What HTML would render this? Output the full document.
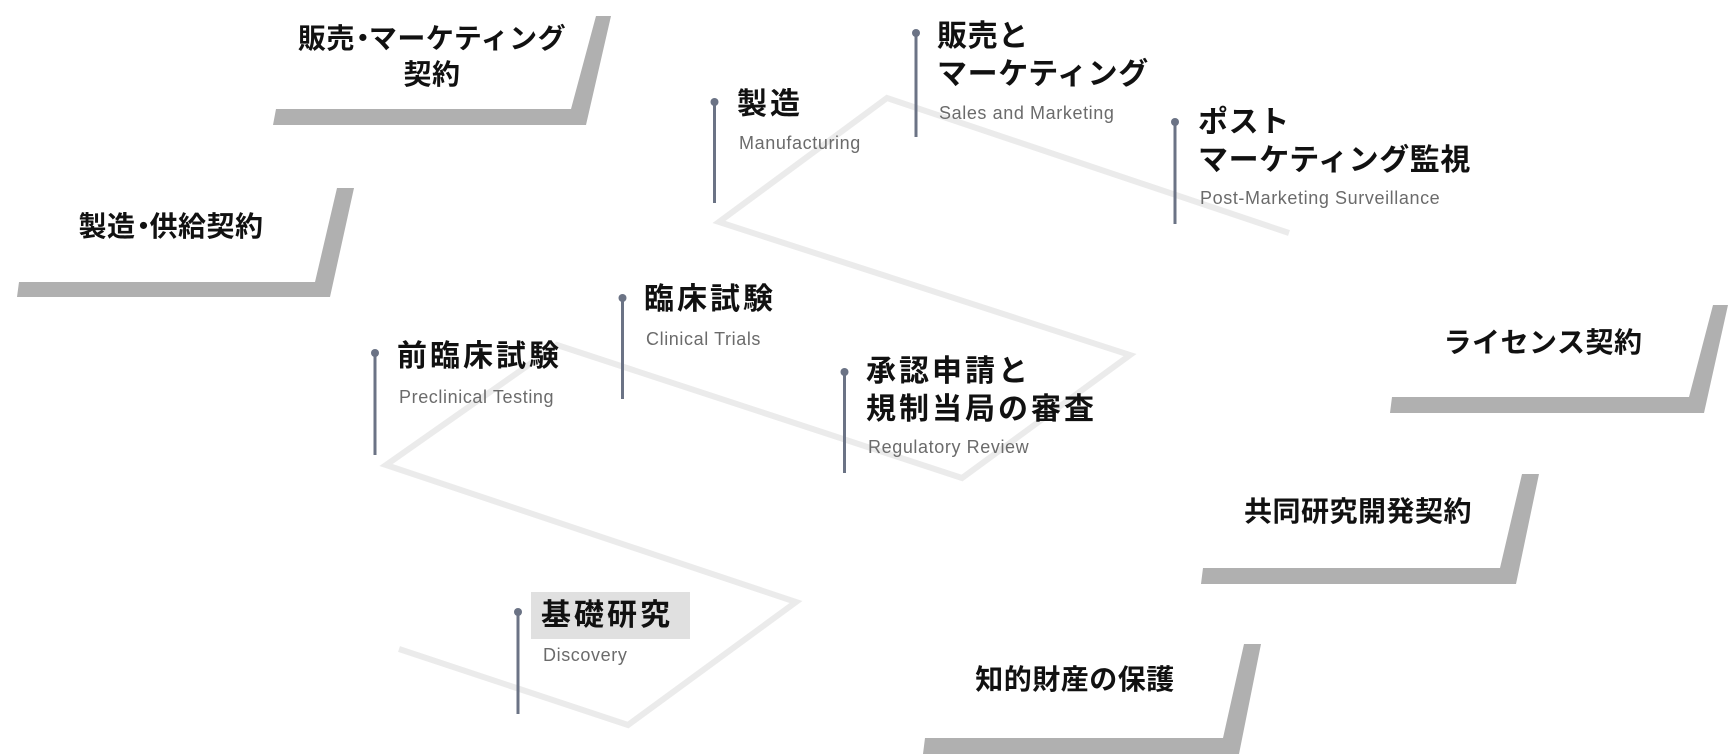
<!DOCTYPE html>
<html><head><meta charset="utf-8"><style>
html,body{margin:0;padding:0;background:#fff;}
body{width:1728px;height:754px;position:relative;overflow:hidden;font-family:"Liberation Sans","Noto Sans CJK JP",sans-serif;}
svg{position:absolute;left:0;top:0;}
.t{position:absolute;font-weight:bold;font-size:30px;letter-spacing:0.6px;line-height:38px;color:#111;white-space:nowrap;font-family:"Liberation Sans","Noto Sans CJK JP",sans-serif;}
.k{letter-spacing:3px;}
.s{position:absolute;font-size:18px;letter-spacing:0.6px;line-height:20px;color:#6b6b6b;white-space:nowrap;}
.c{position:absolute;font-weight:bold;font-size:28px;letter-spacing:0.5px;line-height:36px;color:#111;white-space:nowrap;text-align:center;transform:translateX(-50%);}
.d{letter-spacing:-8px;margin-left:-6px;}
</style></head><body>
<svg width="1728" height="754" viewBox="0 0 1728 754">
<polyline points="1289,233 887,98 719,222 1130,355 962,478 557,345 386,465 796,602 628,725 399,649" fill="none" stroke="#ebebeb" stroke-width="6"/>
<g fill="#b0b0b0">
<polygon points="596,16 611,16 586,125 273,125 276,109 571,109"/>
<polygon points="337,188 354,188 330,297 17,297 19,282 315,282"/>
<polygon points="1713,305 1728,305 1704,413 1390,413 1392,397 1689,397"/>
<polygon points="1522,474 1539,474 1516,584 1201,584 1203,568 1500,568"/>
<polygon points="1244,644 1261,644 1239,754 923,754 925,738 1223,738"/>
</g>
<rect x="531" y="592" width="159" height="47" fill="#e0e0e0"/>
<g stroke="#6b7385" stroke-width="3">
<line x1="714.5" y1="102" x2="714.5" y2="203"/>
<line x1="916" y1="33" x2="916" y2="137"/>
<line x1="1175" y1="122" x2="1175" y2="224"/>
<line x1="622.5" y1="298" x2="622.5" y2="399"/>
<line x1="375" y1="353" x2="375" y2="455"/>
<line x1="844.5" y1="372" x2="844.5" y2="473"/>
<line x1="518" y1="612" x2="518" y2="714"/>
</g>
<g fill="#6b7385">
<circle cx="714.5" cy="102" r="4"/><circle cx="916" cy="33" r="4"/><circle cx="1175" cy="122" r="4"/>
<circle cx="622.5" cy="298" r="4"/><circle cx="375" cy="353" r="4"/><circle cx="844.5" cy="372" r="4"/><circle cx="518" cy="612" r="4"/>
</g>
</svg>

<div class="c" style="left:432px;top:21px;">販売<span class="d">・</span>マーケティング<br>契約</div>
<div class="c" style="left:171px;top:209px;">製造<span class="d">・</span>供給契約</div>
<div class="c" style="left:1543px;top:325px;">ライセンス契約</div>
<div class="c" style="left:1358px;top:494px;">共同研究開発契約</div>
<div class="c" style="left:1075px;top:662px;">知的財産の保護</div>

<div class="t k" style="left:737px;top:86px;">製造</div>
<div class="s" style="left:739px;top:133px;">Manufacturing</div>

<div class="t" style="left:937px;top:18px;">販売と<br>マーケティング</div>
<div class="s" style="left:939px;top:103px;">Sales and Marketing</div>

<div class="t" style="left:1198px;top:104px;">ポスト<br>マーケティング監視</div>
<div class="s" style="left:1200px;top:188px;">Post-Marketing Surveillance</div>

<div class="t k" style="left:644px;top:281px;">臨床試験</div>
<div class="s" style="left:646px;top:329px;">Clinical Trials</div>

<div class="t k" style="left:397px;top:338px;">前臨床試験</div>
<div class="s" style="left:399px;top:387px;">Preclinical Testing</div>

<div class="t k" style="left:866px;top:353px;">承認申請と<br>規制当局の審査</div>
<div class="s" style="left:868px;top:437px;">Regulatory Review</div>

<div class="t k" style="left:541px;top:597px;">基礎研究</div>
<div class="s" style="left:543px;top:645px;">Discovery</div>
</body></html>
